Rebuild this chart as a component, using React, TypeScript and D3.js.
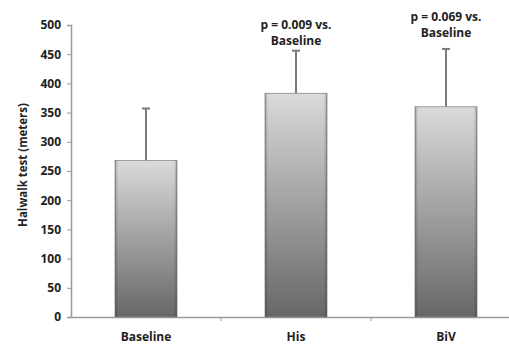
import React, { useEffect, useRef } from 'react'
import * as d3 from 'd3'

const categories = ['Baseline', 'His', 'BiV']
const means = [268, 383, 360]
const errorTops = [357, 456, 459]
const yTicks = [0, 50, 100, 150, 200, 250, 300, 350, 400, 450, 500]
const annotations: (string[] | null)[] = [
  null,
  ['p = 0.009 vs.', 'Baseline'],
  ['p = 0.069 vs.', 'Baseline'],
]
const annotationTops = [0, 20, 12]
const yTitle = 'Halwalk test (meters)'

const App: React.FC = () => {
  const svgRef = useRef<SVGSVGElement | null>(null)

  useEffect(() => {
    if (!svgRef.current) return
    const svg = d3.select(svgRef.current)
    svg.selectAll('*').remove()
    const width = 509
    const height = 346
    const font = '"Open Sans", "Liberation Sans", sans-serif'

    const x = d3
      .scaleBand<string>()
      .domain(categories)
      .range([71, 521])
      .paddingInner(0)
      .paddingOuter(0)
    const y = d3.scaleLinear().domain([0, 500]).range([317, 25])
    const barW = 62

    const defs = svg.append('defs')
    const grad = defs
      .append('linearGradient')
      .attr('id', 'barGrad')
      .attr('x1', 0)
      .attr('y1', 0)
      .attr('x2', 0)
      .attr('y2', 1)
    grad.append('stop').attr('offset', '0%').attr('stop-color', '#dadada')
    grad.append('stop').attr('offset', '100%').attr('stop-color', '#676767')
    const side = defs
      .append('linearGradient')
      .attr('id', 'sideGrad')
      .attr('x1', 0)
      .attr('y1', 0)
      .attr('x2', 1)
      .attr('y2', 0)
    side.append('stop').attr('offset', '0%').attr('stop-color', '#000').attr('stop-opacity', 0.25)
    side.append('stop').attr('offset', '5%').attr('stop-color', '#000').attr('stop-opacity', 0)
    side.append('stop').attr('offset', '95%').attr('stop-color', '#000').attr('stop-opacity', 0)
    side.append('stop').attr('offset', '100%').attr('stop-color', '#000').attr('stop-opacity', 0.25)

    // y axis
    const yAxis = svg
      .append('g')
      .attr('transform', 'translate(71,0)')
      .call(d3.axisLeft(y).tickValues(yTicks).tickSize(4).tickPadding(6))
    yAxis.select('.domain').attr('stroke', '#9a9a9a').attr('stroke-width', 1.5)
    yAxis.selectAll('.tick line').attr('stroke', '#9a9a9a')
    yAxis
      .selectAll('.tick text')
      .attr('font-family', font)
      .attr('font-size', 12)
      .attr('font-weight', 'bold')
      .attr('fill', '#222')

    // x axis
    const xAxis = svg
      .append('g')
      .attr('transform', `translate(0,${y(0)})`)
      .call(d3.axisBottom(x).tickSize(0).tickPadding(15))
    xAxis.select('.domain').attr('stroke', '#9a9a9a').attr('stroke-width', 1.5)
    xAxis
      .selectAll('.tick text')
      .attr('font-family', font)
      .attr('font-size', 12)
      .attr('font-weight', 'bold')
      .attr('fill', '#222')
    // category separators
    svg
      .append('g')
      .selectAll('line')
      .data(categories.slice(1))
      .enter()
      .append('line')
      .attr('x1', (d) => x(d)!)
      .attr('x2', (d) => x(d)!)
      .attr('y1', y(0))
      .attr('y2', y(0) + 4)
      .attr('stroke', '#9a9a9a')

    // error bars
    const err = svg.append('g')
    categories.forEach((c, i) => {
      const cx = x(c)! + x.bandwidth() / 2
      err
        .append('line')
        .attr('x1', cx)
        .attr('x2', cx)
        .attr('y1', y(means[i]))
        .attr('y2', y(errorTops[i]))
        .attr('stroke', '#7a7a7a')
        .attr('stroke-width', 2)
      err
        .append('line')
        .attr('x1', cx - 4)
        .attr('x2', cx + 4)
        .attr('y1', y(errorTops[i]))
        .attr('y2', y(errorTops[i]))
        .attr('stroke', '#7a7a7a')
        .attr('stroke-width', 2)
    })

    // bars
    const bars = svg.append('g')
    bars
      .selectAll('rect.bar')
      .data(means)
      .enter()
      .append('rect')
      .attr('class', 'bar')
      .attr('x', (_, i) => x(categories[i])! + x.bandwidth() / 2 - barW / 2)
      .attr('y', (d) => y(d))
      .attr('width', barW)
      .attr('height', (d) => y(0) - y(d))
      .attr('fill', 'url(#barGrad)')
      .attr('stroke', '#8a8a8a')
      .attr('stroke-width', 0.8)
    bars
      .selectAll('rect.side')
      .data(means)
      .enter()
      .append('rect')
      .attr('class', 'side')
      .attr('x', (_, i) => x(categories[i])! + x.bandwidth() / 2 - barW / 2)
      .attr('y', (d) => y(d))
      .attr('width', barW)
      .attr('height', (d) => y(0) - y(d))
      .attr('fill', 'url(#sideGrad)')

    // annotations
    annotations.forEach((lines, i) => {
      if (!lines) return
      const cx = x(categories[i])! + x.bandwidth() / 2
      const t = svg
        .append('text')
        .attr('x', cx)
        .attr('y', annotationTops[i])
        .attr('text-anchor', 'middle')
        .attr('font-family', font)
        .attr('font-size', 12)
        .attr('font-weight', 'bold')
        .attr('fill', '#222')
      lines.forEach((l, j) => {
        t.append('tspan')
          .attr('x', cx)
          .attr('dy', j === 0 ? '0.71em' : '1.35em')
          .text(l)
      })
    })

    // y title
    svg
      .append('text')
      .attr('transform', `translate(27,165) rotate(-90)`)
      .attr('text-anchor', 'middle')
      .attr('font-family', font)
      .attr('font-size', 11.5)
      .attr('font-weight', 'bold')
      .attr('fill', '#222')
      .text(yTitle)

    svg.attr('width', width).attr('height', height)
  }, [])

  return (
    <div style={{ position: 'absolute', left: 0, top: 0, background: '#fff' }}>
      <svg ref={svgRef} width={509} height={346} style={{ display: 'block' }}></svg>
    </div>
  )
}

export default App
